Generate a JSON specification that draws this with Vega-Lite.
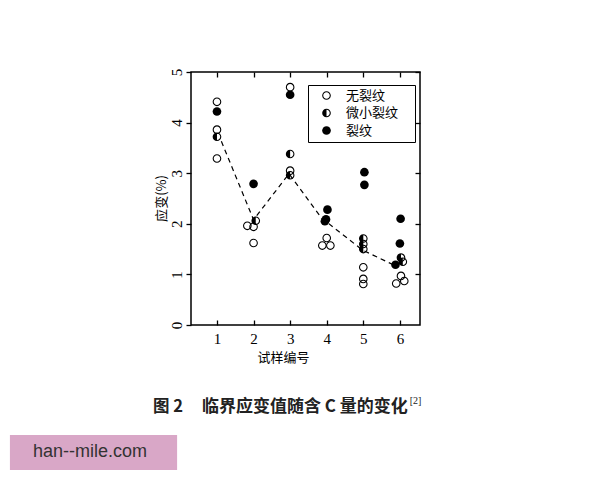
{
  "$schema": "https://vega.github.io/schema/vega-lite/v6.json",
  "autosize": {"type": "none"},
  "padding": {"left": 191, "top": 72, "right": 180, "bottom": 155},
  "width": 229,
  "height": 253,
  "background": "white",
  "config": {
    "view": {"stroke": "black", "strokeWidth": 1.5},
    "axis": {"grid": false, "domain": false, "tickColor": "black", "tickWidth": 1.3, "labelColor": "black", "titleColor": "black"},
    "axisLeft": {"labelAngle": 270, "labelAlign": "center", "labelBaseline": "bottom"},
    "legend": {
      "orient": "none", "legendX": 117, "legendY": 13,
      "strokeColor": "black", "strokeWidth": 1, "fillColor": "white",
      "padding": 4, "symbolOffset": 8, "labelOffset": 13,
      "labelFont": "Noto Sans CJK SC", "labelFontSize": 13, "labelColor": "black",
      "rowPadding": 3.5, "symbolSize": 75, "symbolFillColor": "black", "symbolStrokeWidth": 0,
      "titleOrient": "right", "titleColor": "transparent", "titleFontSize": 9, "titlePadding": 5, "titleBaseline": "bottom", "titleAnchor": "end"
    }
  },
  "resolve": {"axis": {"x": "independent", "y": "independent"}},
  "layer": [
    {
      "data": {"values": [
        {"x": 1.12, "y": 3.63}, {"x": 2.0, "y": 2.08}, {"x": 2.97, "y": 2.99},
        {"x": 3.85, "y": 2.12}, {"x": 4.98, "y": 1.48}, {"x": 5.85, "y": 1.18}
      ]},
      "mark": {"type": "line", "color": "black", "strokeWidth": 1.2, "strokeDash": [5, 4]},
      "encoding": {
        "x": {"field": "x", "type": "quantitative", "scale": {"domain": [0.29, 6.55], "nice": false, "zero": false},
              "axis": {"orient": "top", "values": [1, 2, 3, 4, 5, 6], "labels": false, "tickSize": -5, "title": null}},
        "y": {"field": "y", "type": "quantitative", "scale": {"domain": [0, 5], "nice": false},
              "axis": {"orient": "right", "values": [1, 2, 3, 4, 5], "labels": false, "tickSize": -5, "title": null}}
      }
    },
    {
      "data": {"values": [
        {"x": 1.0, "y": 4.41, "type": "无裂纹"}, {"x": 1.0, "y": 3.86, "type": "无裂纹"}, {"x": 1.0, "y": 3.29, "type": "无裂纹"},
        {"x": 1.83, "y": 1.96, "type": "无裂纹"}, {"x": 2.0, "y": 1.94, "type": "无裂纹"}, {"x": 2.0, "y": 1.62, "type": "无裂纹"},
        {"x": 3.0, "y": 4.70, "type": "无裂纹"}, {"x": 3.0, "y": 3.05, "type": "无裂纹"},
        {"x": 4.0, "y": 1.72, "type": "无裂纹"}, {"x": 3.88, "y": 1.57, "type": "无裂纹"}, {"x": 4.1, "y": 1.57, "type": "无裂纹"},
        {"x": 5.0, "y": 1.14, "type": "无裂纹"}, {"x": 5.0, "y": 0.91, "type": "无裂纹"}, {"x": 5.0, "y": 0.81, "type": "无裂纹"},
        {"x": 6.03, "y": 0.97, "type": "无裂纹"}, {"x": 5.9, "y": 0.82, "type": "无裂纹"}, {"x": 6.12, "y": 0.87, "type": "无裂纹"},
        {"x": 1.0, "y": 3.72, "type": "微小裂纹"}, {"x": 2.06, "y": 2.06, "type": "微小裂纹"}, {"x": 3.0, "y": 3.38, "type": "微小裂纹"},
        {"x": 3.0, "y": 2.96, "type": "微小裂纹"}, {"x": 5.0, "y": 1.71, "type": "微小裂纹"}, {"x": 5.0, "y": 1.60, "type": "微小裂纹"},
        {"x": 5.0, "y": 1.50, "type": "微小裂纹"}, {"x": 6.03, "y": 1.33, "type": "微小裂纹"}, {"x": 6.08, "y": 1.25, "type": "微小裂纹"},
        {"x": 1.0, "y": 4.22, "type": "裂纹"}, {"x": 2.0, "y": 2.79, "type": "裂纹"}, {"x": 3.0, "y": 4.55, "type": "裂纹"},
        {"x": 4.02, "y": 2.28, "type": "裂纹"}, {"x": 3.98, "y": 2.09, "type": "裂纹"}, {"x": 3.95, "y": 2.05, "type": "裂纹"},
        {"x": 5.03, "y": 3.02, "type": "裂纹"}, {"x": 5.03, "y": 2.77, "type": "裂纹"}, {"x": 6.02, "y": 2.10, "type": "裂纹"},
        {"x": 6.0, "y": 1.61, "type": "裂纹"}, {"x": 5.88, "y": 1.19, "type": "裂纹"}
      ]},
      "mark": {"type": "point", "filled": true, "fill": "black", "strokeWidth": 0, "opacity": 1, "size": 75},
      "encoding": {
        "x": {"field": "x", "type": "quantitative", "scale": {"domain": [0.29, 6.55], "nice": false, "zero": false},
              "axis": {"orient": "bottom", "values": [1, 2, 3, 4, 5, 6], "tickSize": -5, "labelPadding": 11,
                       "labelFont": "Liberation Serif", "labelFontSize": 15,
                       "title": "试样编号", "titleFont": "Noto Sans CJK SC", "titleFontSize": 13, "titleFontWeight": "normal",
                       "titleX": 92, "titleY": 32, "titleBaseline": "middle"}},
        "y": {"field": "y", "type": "quantitative", "scale": {"domain": [0, 5], "nice": false},
              "axis": {"orient": "left", "values": [0, 1, 2, 3, 4, 5], "tickSize": 5, "labelPadding": 2, "labelAngle": 270,
                       "labelAlign": "center", "labelBaseline": "bottom",
                       "labelFont": "Liberation Serif", "labelFontSize": 15,
                       "title": "应变(%)", "titleFont": "Noto Sans CJK SC", "titleFontSize": 13, "titleFontWeight": "normal",
                       "titleX": -30, "titleY": 126, "titleAngle": 270, "titleAlign": "center", "titleBaseline": "middle"}},
        "shape": {"field": "type", "type": "nominal",
                  "scale": {"domain": ["无裂纹", "微小裂纹", "裂纹"],
                            "range": [
                              "M 0 -1 A 1 1 0 0 1 0 1 A 1 1 0 0 1 0 -1 Z M 0 0.75 A 0.75 0.75 0 0 0 0 -0.75 A 0.75 0.75 0 0 0 0 0.75 Z",
                              "M 0 -1 A 1 1 0 0 1 0 1 A 1 1 0 0 1 0 -1 Z M 0 0.75 A 0.75 0.75 0 0 0 0 -0.75 Z",
                              "circle"
                            ]},
                  "legend": {"title": "M"}}
      }
    },
    {
      "data": {"values": [{"label": "han--mile.com"}]},
      "layer": [
        {
          "mark": {"type": "rect", "fill": "#d9a7c7"},
          "encoding": {
            "x": {"datum": -4.66, "type": "quantitative", "scale": {"domain": [0.29, 6.55], "nice": false, "zero": false}, "axis": null},
            "x2": {"datum": -0.09},
            "y": {"datum": -2.174, "type": "quantitative", "scale": {"domain": [0, 5], "nice": false}, "axis": null},
            "y2": {"datum": -2.866}
          }
        },
        {
          "mark": {"type": "text", "align": "left", "baseline": "middle", "font": "Liberation Sans", "fontSize": 18, "color": "#333333"},
          "encoding": {
            "x": {"datum": -4.03, "type": "quantitative", "scale": {"domain": [0.29, 6.55], "nice": false, "zero": false}, "axis": null},
            "y": {"datum": -2.51, "type": "quantitative", "scale": {"domain": [0, 5], "nice": false}, "axis": null},
            "text": {"field": "label"}
          }
        }
      ]
    },
    {
      "data": {"values": [{"fig": "图 2", "caption": "临界应变值随含 C 量的变化", "ref": "[2]"}]},
      "layer": [
        {
          "mark": {"type": "text", "align": "left", "baseline": "middle", "font": "Noto Sans CJK SC", "fontSize": 16.5, "fontWeight": "bold", "color": "#222222"},
          "encoding": {
            "x": {"datum": -0.75, "type": "quantitative", "scale": {"domain": [0.29, 6.55], "nice": false, "zero": false}, "axis": null},
            "y": {"datum": -1.62, "type": "quantitative", "scale": {"domain": [0, 5], "nice": false}, "axis": null},
            "text": {"field": "fig"}
          }
        },
        {
          "mark": {"type": "text", "align": "left", "baseline": "middle", "font": "Noto Sans CJK SC", "fontSize": 17, "fontWeight": "bold", "color": "#222222"},
          "encoding": {
            "x": {"datum": 0.59, "type": "quantitative", "scale": {"domain": [0.29, 6.55], "nice": false, "zero": false}, "axis": null},
            "y": {"datum": -1.62, "type": "quantitative", "scale": {"domain": [0, 5], "nice": false}, "axis": null},
            "text": {"field": "caption"}
          }
        },
        {
          "mark": {"type": "text", "align": "left", "baseline": "middle", "font": "Liberation Serif", "fontSize": 10, "color": "#222222"},
          "encoding": {
            "x": {"datum": 6.27, "type": "quantitative", "scale": {"domain": [0.29, 6.55], "nice": false, "zero": false}, "axis": null},
            "y": {"datum": -1.50, "type": "quantitative", "scale": {"domain": [0, 5], "nice": false}, "axis": null},
            "text": {"field": "ref"}
          }
        }
      ]
    }
  ]
}
